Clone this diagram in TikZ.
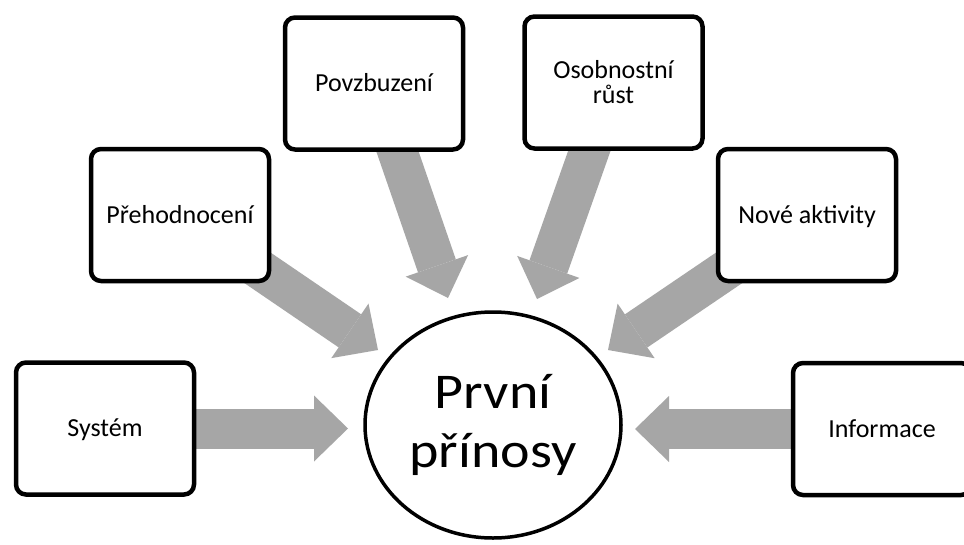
\documentclass[tikz,border=0pt]{standalone}
\usepackage{fontspec}
\setmainfont{Carlito}
\newfontfamily\hubfont[FakeStretch=1.12]{Carlito}
\usetikzlibrary{arrows.meta,shapes.geometric,backgrounds}
\definecolor{arrowgray}{RGB}{166,166,166}
\begin{document}
\begin{tikzpicture}[x=1pt,y=-1pt,
  box/.style={draw=black, line width=4.5pt, rounded corners=10pt, fill=white,
    minimum width=178pt, minimum height=132pt, align=center, inner sep=0pt,
    font=\fontsize{26}{25}\selectfont},
  oneline/.style={text height=16.5pt, text depth=0pt},
  hub/.style={ellipse, draw=black, line width=3.5pt, fill=white,
    minimum width=256pt, minimum height=226pt, align=center, inner sep=0pt,
    font=\hubfont\fontsize{50}{59}\selectfont},
  feed/.style={draw=arrowgray, line width=40pt,
    -{Triangle[length=34pt,width=66pt,line width=0pt]}}
]
\useasboundingbox (0,0) rectangle (964,544);
\clip (0,0) rectangle (964,544);

% source boxes
\node[box,oneline] (sys)  at (105,428.5) {Systém};
\node[box,oneline] (preh) at (180,215)   {Přehodnocení};
\node[box,oneline] (povz) at (374,83.5)  {Povzbuzení};
\node[box]         (osob) at (613.5,82.5) {Osobnostní\\růst};
\node[box,oneline] (nove) at (807,215)   {Nové aktivity};
\node[box,oneline] (info) at (882,429)   {Informace};

% central ellipse
\node[hub] (hub) at (493,425) {První\\přínosy};

% arrow tips, just short of the ellipse
\coordinate (tSys)  at (348,428.5);
\coordinate (tPreh) at (378,350);
\coordinate (tPovz) at (448,298);
\coordinate (tOsob) at (537,299);
\coordinate (tNove) at (608,350);
\coordinate (tInfo) at (635,429);

% wide grey arrows, starting under each box
\begin{scope}[on background layer]
  \fill[white] (0,0) rectangle (964,544);
  \draw[feed] (sys.center)  -- (tSys);
  \draw[feed] (preh.center) -- (tPreh);
  \draw[feed] (povz.center) -- (tPovz);
  \draw[feed] (osob.center) -- (tOsob);
  \draw[feed] (nove.center) -- (tNove);
  \draw[feed] (info.center) -- (tInfo);
\end{scope}
\end{tikzpicture}
\end{document}
